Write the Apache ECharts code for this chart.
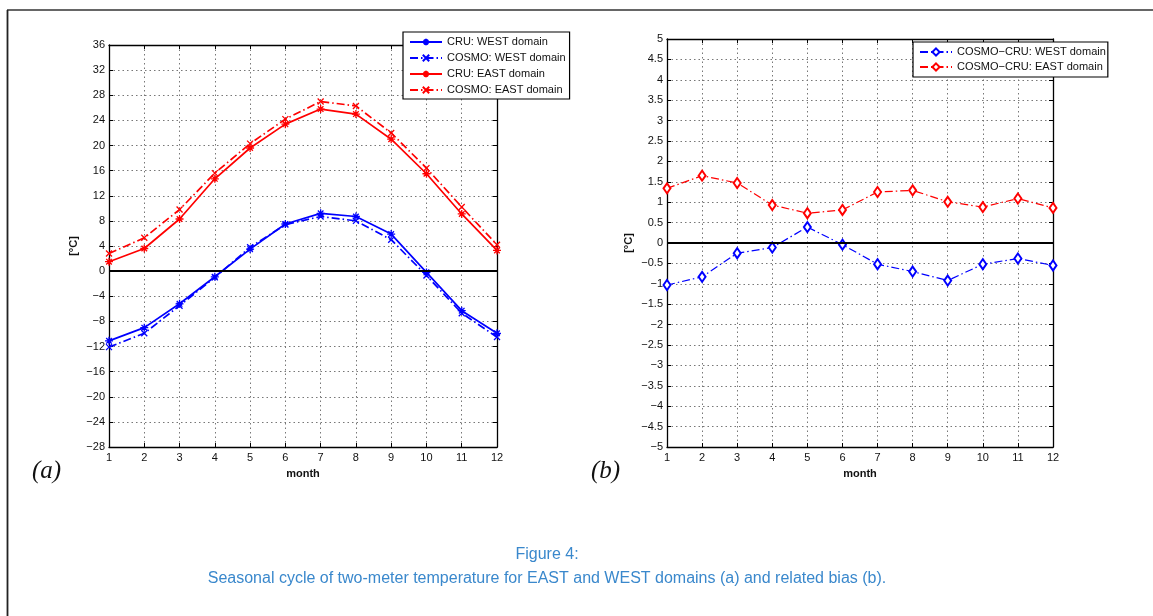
<!DOCTYPE html>
<html>
<head>
<meta charset="utf-8">
<script src="https://cdn.jsdelivr.net/npm/echarts@6/dist/echarts.min.js"></script>
<style>
html,body{margin:0;padding:0;background:#fff;}
#chart{width:1153px;height:616px;}
</style>
</head>
<body>
<div id="chart"></div>
<script>
// ---- data ----
const months = [1,2,3,4,5,6,7,8,9,10,11,12];
const cruWest   = [-11.1, -9.0, -5.2, -0.9, 3.5, 7.5, 9.2, 8.7, 5.9, -0.2, -6.3, -9.9];
const cosmoWest = [-12.1, -9.9, -5.5, -1.0, 3.8, 7.4, 8.7, 8.0, 5.0, -0.7, -6.7, -10.5];
const cruEast   = [1.5, 3.6, 8.3, 14.7, 19.6, 23.4, 25.8, 25.0, 21.0, 15.5, 9.1, 3.3];
const cosmoEast = [2.8, 5.3, 9.8, 15.6, 20.3, 24.2, 27.0, 26.3, 22.0, 16.4, 10.2, 4.2];
const biasWest  = [-1.03, -0.83, -0.25, -0.11, 0.39, -0.04, -0.52, -0.70, -0.92, -0.52, -0.38, -0.55];
const biasEast  = [1.34, 1.65, 1.47, 0.93, 0.73, 0.81, 1.25, 1.29, 1.01, 0.88, 1.09, 0.86];
const xTicks = {min: 1, max: 12, interval: 1};
const yTicksA = {min: -28, max: 36, interval: 4};
const yTicksB = {min: -5, max: 5, interval: 0.5};
const namesA = ['CRU: WEST domain', 'COSMO: WEST domain', 'CRU: EAST domain', 'COSMO: EAST domain'];
const namesB = ['COSMO\u2212CRU: WEST domain', 'COSMO\u2212CRU: EAST domain'];
const captionTitle = 'Figure 4:';
const captionText = 'Seasonal cycle of two-meter temperature for EAST and WEST domains (a) and related bias (b).';

// ---- helpers ----
const FONT = 'Liberation Sans, Arial, Helvetica, sans-serif';
const pair = arr => arr.map((v, i) => [months[i], v]);
const minus = v => String(v).replace('-', '\u2212');
const ASTER = 'path://M5,0L5,10M0,5L10,5M1.5,1.5L8.5,8.5M1.5,8.5L8.5,1.5';
const CROSS = 'path://M0,0L10,10M0,10L10,0';
const DASHDOT = [8, 3, 1.5, 3];

function xAx(gi, pos, show) {
  return {
    type: 'value', gridIndex: gi, position: pos, min: xTicks.min, max: xTicks.max, interval: xTicks.interval,
    name: show ? 'month' : '', nameLocation: 'middle', nameGap: 21,
    nameTextStyle: {fontFamily: FONT, fontSize: 11, fontWeight: 'bold', color: '#111'},
    axisLine: {show: true, onZero: false, lineStyle: {color: '#000', width: 1.3}},
    axisTick: {show: true, inside: true, length: 4, lineStyle: {color: '#000'}},
    axisLabel: {show: show, fontFamily: FONT, fontSize: 11, color: '#111', margin: 5},
    splitLine: {show: show, lineStyle: {type: [1.5, 3], color: '#777', width: 1}}
  };
}
function yAx(gi, pos, show, t, gap) {
  return {
    type: 'value', gridIndex: gi, position: pos, min: t.min, max: t.max, interval: t.interval,
    name: show ? '[\u00b0C]' : '', nameLocation: 'middle', nameGap: gap,
    nameTextStyle: {fontFamily: FONT, fontSize: 11, fontWeight: 'bold', color: '#111'},
    axisLine: {show: true, onZero: false, lineStyle: {color: '#000', width: 1.3}},
    axisTick: {show: true, inside: true, length: 4, lineStyle: {color: '#000'}},
    axisLabel: {show: show, fontFamily: FONT, fontSize: 11, color: '#111', margin: 4, formatter: minus},
    splitLine: {show: show, lineStyle: {type: [1.5, 3], color: '#777', width: 1}}
  };
}
function ser(name, data, color, symbol, size, dashed, xi, yi, width, zero) {
  const s = {
    name, type: 'line', data: pair(data), xAxisIndex: xi, yAxisIndex: yi,
    symbol, symbolSize: size, showSymbol: true,
    lineStyle: {color, width, type: dashed ? DASHDOT : 'solid'},
    itemStyle: {color, borderColor: color, borderWidth: 1.3},
    emphasis: {disabled: true}, animation: false, z: 3
  };
  if (zero) {
    s.markLine = {silent: true, symbol: 'none', label: {show: false},
      lineStyle: {color: '#000', width: 2, type: 'solid'}, data: [{yAxis: 0}], animation: false};
  }
  return s;
}

const chart = echarts.init(document.getElementById('chart'), null, {renderer: 'canvas'});
const option = {
  backgroundColor: '#fff',
  animation: false,
  grid: [
    {left: 109, top: 45, width: 388, height: 402},
    {left: 667, top: 39, width: 386, height: 408}
  ],
  xAxis: [xAx(0, 'bottom', true), xAx(1, 'bottom', true), xAx(0, 'top', false), xAx(1, 'top', false)],
  yAxis: [yAx(0, 'left', true, yTicksA, 30), yAx(1, 'left', true, yTicksB, 33),
          yAx(0, 'right', false, yTicksA, 0), yAx(1, 'right', false, yTicksB, 0)],
  legend: [
    {data: namesA, orient: 'vertical', left: 403, top: 32, itemWidth: 32, itemHeight: 8, itemGap: 4,
     padding: [4, 4, 3, 6], borderColor: '#000', borderWidth: 1.2, backgroundColor: '#fff', borderRadius: 0,
     textStyle: {fontFamily: FONT, fontSize: 11, color: '#111', lineHeight: 12}, selectedMode: false, z: 10},
    {data: namesB, orient: 'vertical', left: 913, top: 42, itemWidth: 32, itemHeight: 9, itemGap: 3,
     padding: [4, 2, 4, 6], borderColor: '#000', borderWidth: 1.2, backgroundColor: '#fff', borderRadius: 0,
     textStyle: {fontFamily: FONT, fontSize: 11, color: '#111', lineHeight: 12}, selectedMode: false, z: 10}
  ],
  series: [
    ser(namesA[0], cruWest, '#0000ff', ASTER, 8, false, 0, 0, 1.7, true),
    ser(namesA[1], cosmoWest, '#0000ff', CROSS, 6, true, 0, 0, 1.7, false),
    ser(namesA[2], cruEast, '#ff0000', ASTER, 8, false, 0, 0, 1.7, false),
    ser(namesA[3], cosmoEast, '#ff0000', CROSS, 6, true, 0, 0, 1.7, false),
    ser(namesB[0], biasWest, '#0000ff', 'emptyDiamond', [7, 10], true, 1, 1, 1.2, true),
    ser(namesB[1], biasEast, '#ff0000', 'emptyDiamond', [7, 10], true, 1, 1, 1.2, false)
  ],
  graphic: [
    {type: 'line', shape: {x1: 7, y1: 10, x2: 1153, y2: 10}, style: {stroke: '#333', lineWidth: 1.5}, silent: true},
    {type: 'line', shape: {x1: 7.5, y1: 10, x2: 7.5, y2: 616}, style: {stroke: '#222', lineWidth: 1.8}, silent: true},
    {type: 'text', left: 32, top: 459, style: {text: '(a)', font: 'italic 25px "Liberation Serif", "DejaVu Serif", serif', fill: '#111'}},
    {type: 'text', left: 591, top: 459, style: {text: '(b)', font: 'italic 25px "Liberation Serif", "DejaVu Serif", serif', fill: '#111'}},
    {type: 'text', x: 547, y: 555, style: {text: captionTitle, font: '16px "Liberation Sans", Arial, sans-serif', fill: '#3a88cc', align: 'center', verticalAlign: 'middle'}},
    {type: 'text', x: 547, y: 579, style: {text: captionText, font: '16px "Liberation Sans", Arial, sans-serif', fill: '#3a88cc', align: 'center', verticalAlign: 'middle'}}
  ]
};
chart.setOption(option);
</script>
</body>
</html>
